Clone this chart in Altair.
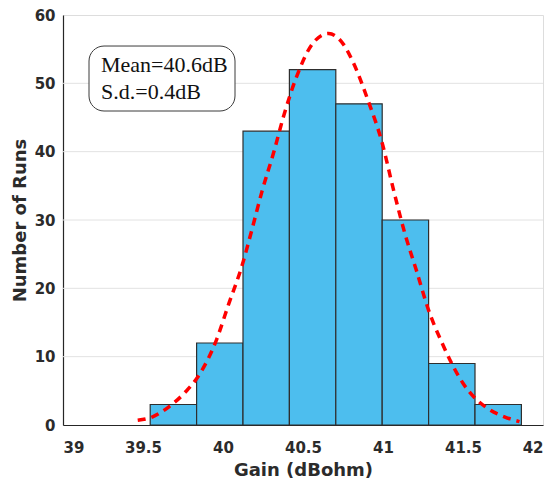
import altair as alt
import pandas as pd

# ---- data ----
bin_edges = [39.545, 39.835, 40.125, 40.415, 40.705, 40.995, 41.285, 41.575, 41.865]
counts = [3, 12, 43, 52, 47, 30, 9, 3]

curve_x = [39.467, 39.56, 39.664, 39.768, 39.85, 39.955, 40.037, 40.12, 40.182,
           40.245, 40.317, 40.38, 40.462, 40.566, 40.66, 40.753, 40.815, 40.908,
           40.991, 41.07, 41.137, 41.209, 41.282, 41.375, 41.5, 41.655, 41.759, 41.853]
curve_y = [0.7, 1.2, 2.7, 4.9, 7.3, 12.2, 17.8, 23.4, 28.7,
           34.3, 39.9, 45.3, 51.1, 56.0, 57.3, 55.7, 53.0, 47.4,
           41.6, 34.0, 28.0, 22.6, 17.0, 11.7, 6.1, 2.4, 1.2, 0.5]

grid_levels = [10, 20, 30, 40, 50]
x_ticks = [39, 39.5, 40, 40.5, 41, 41.5, 42]
y_ticks = [0, 10, 20, 30, 40, 50, 60]

note_lines = ["Mean=40.6dB", "S.d.=0.4dB"]
note_line_y = [51.6, 47.7]
note_text_x = 39.2375
note_box = {"x": [39.1625], "x2": [40.075], "y": [55.46], "y2": [45.95]}

# ---- tables ----
bars_df = pd.DataFrame({"start": bin_edges[:-1], "end": bin_edges[1:],
                        "count": counts, "base": [0] * len(counts)})
curve_df = pd.DataFrame({"x": curve_x, "y": curve_y})
grid_df = pd.DataFrame({"level": grid_levels})
note_df = pd.DataFrame({"line": note_lines, "y": note_line_y, "x": [note_text_x] * 2})
box_df = pd.DataFrame(note_box)

W, H = 480, 410
LAB_FONT = "DejaVu Sans"
TXT = "#2b2b2b"

xs = alt.Scale(domain=[39, 42], nice=False, zero=False)
ys = alt.Scale(domain=[0, 60], nice=False, zero=True)

x_axis = alt.Axis(values=x_ticks, format="~g", grid=False, ticks=False,
                  labelPadding=15, labelFont=LAB_FONT, labelFontSize=15,
                  labelFontWeight="bold", labelColor=TXT, domainColor="#262626",
                  domainWidth=1.2, titleFont=LAB_FONT, titleFontSize=18,
                  titleFontWeight="bold", titleColor=TXT, titlePadding=6)
y_axis = alt.Axis(values=y_ticks, grid=False, ticks=False, labelPadding=8,
                  labelFont=LAB_FONT, labelFontSize=15, labelFontWeight="bold",
                  labelColor=TXT, domainColor="#262626", domainWidth=1.2,
                  titleFont=LAB_FONT, titleFontSize=18, titleFontWeight="bold",
                  titleColor=TXT, titlePadding=5)

XT = "Gain (dBohm)"
YT = "Number of Runs"


def X(field):
    return alt.X(field, type="quantitative", scale=xs, axis=x_axis, title=XT)


def Y(field):
    return alt.Y(field, type="quantitative", scale=ys, axis=y_axis, title=YT)


grid = alt.Chart(grid_df).mark_rule(color="#e2e2e2", strokeWidth=1).encode(
    y=Y("level"), x=alt.value(0), x2=alt.value(W))

bars = alt.Chart(bars_df).mark_rect(fill="#4DBEEE", stroke="#2e2e2e",
                                    strokeWidth=1.2).encode(
    x=X("start"), x2="end", y=Y("count"), y2="base")

curve = alt.Chart(curve_df).mark_line(color="#FF0000", strokeWidth=3.5,
                                      strokeDash=[8, 6], interpolate="monotone",
                                      strokeCap="butt").encode(
    x=X("x"), y=Y("y"))

box = alt.Chart(box_df).mark_rect(fill="white", stroke="#3a3a3a", strokeWidth=1,
                                  cornerRadius=15).encode(
    x=X("x"), x2="x2", y=Y("y"), y2="y2")

note = alt.Chart(note_df).mark_text(font="Liberation Serif", fontSize=22,
                                    align="left", baseline="alphabetic",
                                    color="#111111").encode(
    x=X("x"), y=Y("y"), text="line:N")

chart = alt.layer(grid, bars, curve, box, note).properties(
    width=W, height=H,
    autosize=alt.AutoSizeParams(type="none"),
    padding={"left": 55, "top": 7, "right": 7, "bottom": 60},
).configure_view(stroke=None).configure(background="white")

chart.save("out.html", embed_options={"renderer": "svg", "actions": False})
